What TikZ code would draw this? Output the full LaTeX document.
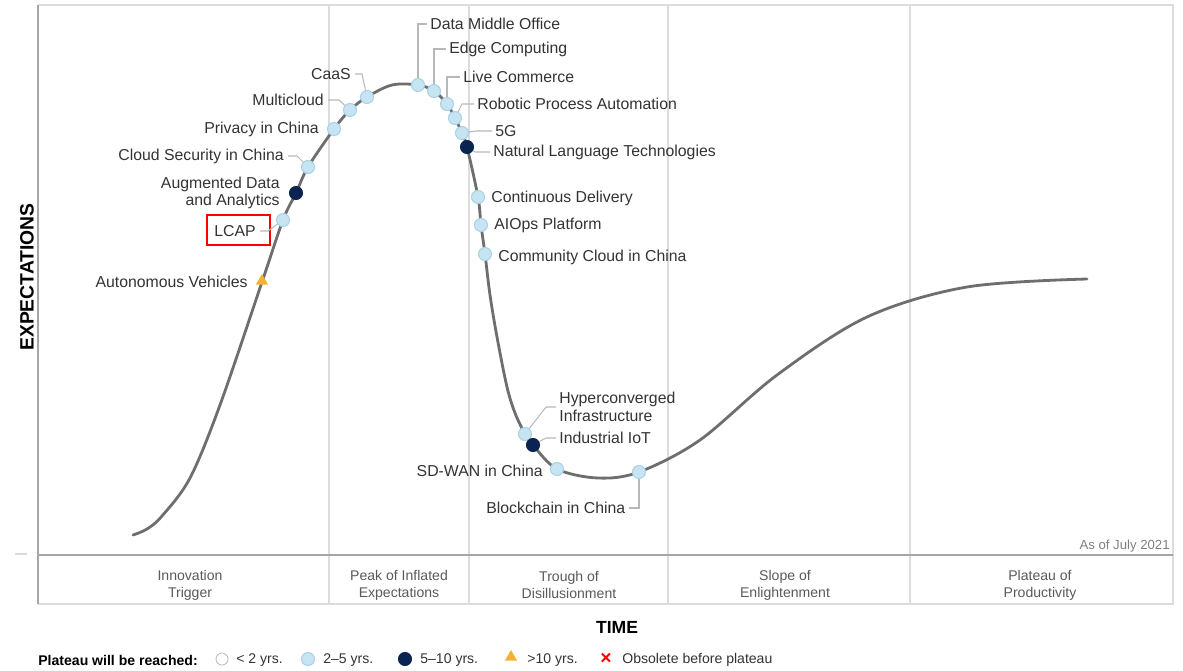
\documentclass[tikz,border=0pt]{standalone}
\usepackage{fontspec}
\setmainfont{Liberation Sans}
\usetikzlibrary{shapes.geometric, positioning, calc}
\definecolor{curvegray}{HTML}{6E6E6E}
\definecolor{lightblue}{HTML}{C6E4F2}
\definecolor{lightrim}{HTML}{A9D2E6}
\definecolor{navy}{HTML}{0B2350}
\definecolor{amber}{HTML}{F2B330}
\definecolor{gridgray}{HTML}{DCDCDC}
\definecolor{leadgray}{HTML}{B8B8B8}
\definecolor{textgray}{HTML}{333333}
\definecolor{bandtext}{HTML}{5A5A5A}

\begin{document}
\begin{tikzpicture}[x=0.02cm, y=-0.02cm, every node/.style={font=\fontsize{9}{10}\selectfont, text=textgray, inner sep=0pt}]
        \tikzstyle{lite} = [circle, fill=lightblue, draw=lightrim, line width=0.6pt, minimum size=0.26cm]
        \tikzstyle{dark} = [circle, fill=navy, draw=navy, line width=0.6pt, minimum size=0.26cm]
        \tikzstyle{warn} = [regular polygon, regular polygon sides=3, fill=amber, minimum size=0.28cm]
        \tikzstyle{leader} = [draw=leadgray, line width=0.6pt]
        \tikzstyle{phase} = [align=center, text=bandtext, font=\fontsize{8}{9.6}\selectfont]

        \useasboundingbox (0,0) rectangle (1183,670);

        % frame and phases
        \draw[gridgray, line width=1.2pt] (38,5) -- (1173,5) -- (1173,604) -- (38,604);
        \foreach \x in {329,469,668,910}
            \draw[gridgray, line width=0.8pt] (\x,5) -- (\x,604);
        \draw[gray!70, line width=1pt] (38,5) -- (38,604);
        \draw[gray!70, line width=1pt] (38,555) -- (1173,555);
        \draw[gridgray, line width=0.8pt] (15,554) -- (27,554);

        \foreach \x/\txt [count=\i] in {190/{Innovation\\Trigger}, 399/{Peak of Inflated\\Expectations}, 569/{Trough of\\Disillusionment}, 785/{Slope of\\Enlightenment}, 1040/{Plateau of\\Productivity}}
            \node[phase] (phase\i) at (\x,585) {\txt};

        \node[anchor=east, text=gray, font=\fontsize{7.5}{9}\selectfont] (asof) at (1170,546) {As of July 2021};

        % hype curve
        \draw[curvegray, line width=1.6pt, line cap=round] plot[smooth, tension=0.55] coordinates {
            (133,535) (147,529) (162,516) (190,478) (220,405) (262,282) (283,220) (296,193)
            (308,167) (334,129) (350,110) (367,97) (392,85) (418,85) (434,91) (447,104) (455,118)
            (462,133) (467,147) (478,197) (481,225) (485,254) (490,295) (497,337) (507,387) (515,413) (525,434)
            (533,445) (557,469) (598,478) (639,472) (700,440) (777,375) (867,317) (967,287) (1087,279)};

        % markers
        \node[warn] (av) at (262,281) {};
        \node[lite] (lcap) at (283,220) {};
        \node[dark] (aug) at (296,193) {};
        \node[lite] (cs) at (308,167) {};
        \node[lite] (priv) at (334,129) {};
        \node[lite] (multi) at (350,110) {};
        \node[lite] (caas) at (367,97) {};
        \node[lite] (dmo) at (418,85) {};
        \node[lite] (edge) at (434,91) {};
        \node[lite] (live) at (447,104) {};
        \node[lite] (rpa) at (455,118) {};
        \node[lite] (fiveg) at (462,133) {};
        \node[dark] (nlt) at (467,147) {};
        \node[lite] (cd) at (478,197) {};
        \node[lite] (aiops) at (481,225) {};
        \node[lite] (ccc) at (485,254) {};
        \node[lite] (hci) at (525,434) {};
        \node[dark] (iiot) at (533,445) {};
        \node[lite] (sdwan) at (557,469) {};
        \node[lite] (bc) at (639,472) {};

        % labels
        \node[anchor=east] (av-t) at (248,282) {Autonomous Vehicles};
        \node[anchor=east] (lcap-t) at (256,231) {LCAP};
        \node[draw=red, line width=1.2pt, minimum width=1.26cm, minimum height=0.6cm] (lcap-box) at (238.5,230) {};
        \node[anchor=east, align=right] (aug-t) at (280,193) {Augmented Data\\and Analytics};
        \node[anchor=east] (cs-t) at (284,156) {Cloud Security in China};
        \node[anchor=east] (priv-t) at (319,129) {Privacy in China};
        \node[anchor=east] (multi-t) at (324,100) {Multicloud};
        \node[anchor=east] (caas-t) at (351,74) {CaaS};
        \node[anchor=west] (dmo-t) at (430,24) {Data Middle Office};
        \node[anchor=west] (edge-t) at (449,49) {Edge Computing};
        \node[anchor=west] (live-t) at (463,77) {Live Commerce};
        \node[anchor=west] (rpa-t) at (477,104) {Robotic Process Automation};
        \node[anchor=west] (fiveg-t) at (495,131) {5G};
        \node[anchor=west] (nlt-t) at (493,152) {Natural Language Technologies};
        \node[anchor=west] (cd-t) at (491,198) {Continuous Delivery};
        \node[anchor=west] (aiops-t) at (494,225) {AIOps Platform};
        \node[anchor=west] (ccc-t) at (498,257) {Community Cloud in China};
        \node[anchor=west, align=left] (hci-t) at (559,407) {Hyperconverged\\Infrastructure};
        \node[anchor=west] (iiot-t) at (559,438) {Industrial IoT};
        \node[anchor=east] (sdwan-t) at (543,471) {SD-WAN in China};
        \node[anchor=west] (bc-t) at (486,508) {Blockchain in China};

        % leaders
        \draw[leader] (lcap-t.east) ++(4,0) -- ++(8,0) -- (lcap);
        \draw[leader] (cs-t.east) ++(4,0) -- ++(9,0) -- (cs);
        \draw[leader] (multi-t.east) ++(4,0) -- ++(11,0) -- (multi);
        \draw[leader] (caas-t.east) ++(4,0) -- ++(7,0) -- (caas);
        \draw[leader] (dmo-t.west) ++(-3,0) -| (dmo);
        \draw[leader] (edge-t.west) ++(-3,0) -| (edge);
        \draw[leader] (live-t.west) ++(-3,0) -| (live);
        \draw[leader] (rpa-t.west) ++(-3,0) -- ++(-12,0) -- (rpa);
        \draw[leader] (fiveg-t.west) ++(-3,0) -- ++(-16,0) -- (fiveg);
        \draw[leader] (nlt-t.west) ++(-3,0) -- ++(-15,0) -- (nlt);
        \draw[leader] (hci-t.west) ++(-3,0) -- ++(-10,0) -- (hci);
        \draw[leader] (iiot-t.west) ++(-3,0) -- ++(-10,0) -- (iiot);
        \draw[leader] (bc-t.east) ++(3,0) -| (bc);

        % axes
        \node[rotate=90, text=black, font=\bfseries\fontsize{11}{13}\selectfont] (ylabel) at (27,277) {EXPECTATIONS};
        \node[text=black, font=\bfseries\fontsize{10}{12}\selectfont] (xlabel) at (617,627) {TIME};

        % legend
        \node[anchor=west, text=black, font=\bfseries\fontsize{8}{10}\selectfont] (legend) at (38,660) {Plateau will be reached:};
        \node[circle, draw=gray!60, fill=white, minimum size=0.24cm] (leg-a) at (222,659) {};
        \node[anchor=west, font=\fontsize{8}{10}\selectfont] (leg-a-t) at (236,660) {< 2 yrs.};
        \node[lite] (leg-b) at (308,659) {};
        \node[anchor=west, font=\fontsize{8}{10}\selectfont] (leg-b-t) at (323,660) {2–5 yrs.};
        \node[dark] (leg-c) at (405,659) {};
        \node[anchor=west, font=\fontsize{8}{10}\selectfont] (leg-c-t) at (420,660) {5–10 yrs.};
        \node[warn] (leg-d) at (511,657) {};
        \node[anchor=west, font=\fontsize{8}{10}\selectfont] (leg-d-t) at (527,660) {>10 yrs.};
        \node[text=red, font=\bfseries\fontsize{11}{12}\selectfont] (leg-e) at (606,659) {×};
        \node[anchor=west, font=\fontsize{8}{10}\selectfont] (leg-e-t) at (622,660) {Obsolete before plateau};

    \end{tikzpicture}
\end{document}
